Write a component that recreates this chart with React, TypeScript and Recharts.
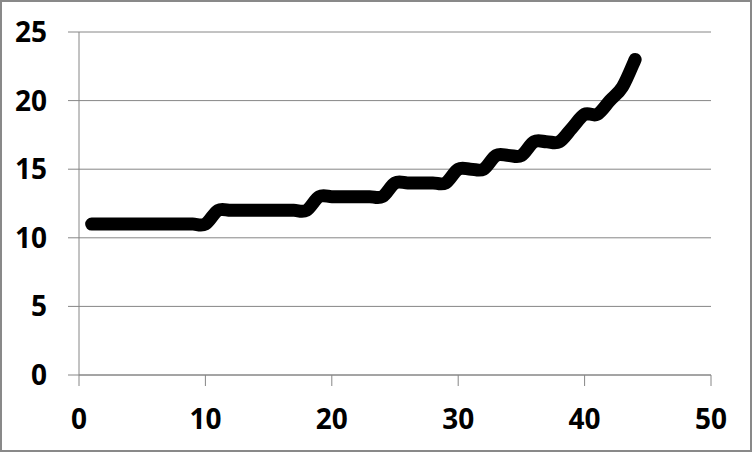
import { CartesianGrid, Line, LineChart, XAxis, YAxis } from "recharts";

const xValues = [
  1, 2, 3, 4, 5, 6, 7, 8, 9, 10, 11, 12, 13, 14, 15, 16, 17, 18, 19, 20, 21, 22,
  23, 24, 25, 26, 27, 28, 29, 30, 31, 32, 33, 34, 35, 36, 37, 38, 39, 40, 41, 42, 43, 44,
];
const yValues = [
  11, 11, 11, 11, 11, 11, 11, 11, 11, 11, 12, 12, 12, 12, 12, 12, 12, 12, 13, 13, 13, 13,
  13, 13, 14, 14, 14, 14, 14, 15, 15, 15, 16, 16, 16, 17, 17, 17, 18, 19, 19, 20, 21, 23,
];
const xTicks = [0, 10, 20, 30, 40, 50];
const yTicks = [0, 5, 10, 15, 20, 25];

const data = xValues.map((x, i) => ({ x, y: yValues[i] }));

// Excel-style smoothed line: cubic bezier, control points at 1/6 of neighbour span
function excelSmooth(context: any) {
  let pts: [number, number][] = [];
  return {
    areaStart() {},
    areaEnd() {},
    lineStart() {
      pts = [];
    },
    point(x: number, y: number) {
      pts.push([+x, +y]);
    },
    lineEnd() {
      if (!pts.length) return;
      context.moveTo(pts[0][0], pts[0][1]);
      for (let i = 0; i < pts.length - 1; i++) {
        const p0 = pts[i - 1] || pts[i];
        const p1 = pts[i];
        const p2 = pts[i + 1];
        const p3 = pts[i + 2] || p2;
        context.bezierCurveTo(
          p1[0] + (p2[0] - p0[0]) / 6,
          p1[1] + (p2[1] - p0[1]) / 6,
          p2[0] - (p3[0] - p1[0]) / 6,
          p2[1] - (p3[1] - p1[1]) / 6,
          p2[0],
          p2[1],
        );
      }
    },
  };
}

const tickStyle = {
  fill: "#000",
  fontSize: 28,
  fontWeight: 700,
  fontFamily: "'Open Sans', sans-serif",
};
const gray = "#868686";

export default function App() {
  return (
    <div style={{ position: "absolute", left: 0, top: 0, width: 752, height: 452, background: "#fff" }}>
      <LineChart width={752} height={452} data={data} margin={{ top: 32, right: 41, left: 0, bottom: 0 }}>
        <CartesianGrid vertical={false} stroke={gray} strokeWidth={1} />
        <XAxis
          dataKey="x"
          type="number"
          domain={[0, 50]}
          ticks={xTicks}
          height={77}
          tickSize={11}
          tickMargin={23}
          stroke={gray}
          tick={tickStyle}
          interval={0}
        />
        <YAxis
          type="number"
          domain={[0, 25]}
          ticks={yTicks}
          width={79}
          tickSize={11}
          tickMargin={21}
          stroke={gray}
          tick={tickStyle}
          interval={0}
        />
        <Line
          dataKey="y"
          type={excelSmooth as any}
          stroke="#000"
          strokeWidth={13}
          strokeLinecap="round"
          strokeLinejoin="round"
          dot={false}
          isAnimationActive={false}
        />
      </LineChart>
      <div
        style={{
          position: "absolute",
          left: 0,
          top: 0,
          width: 752,
          height: 452,
          boxSizing: "border-box",
          border: "2px solid #898989",
          pointerEvents: "none",
        }}
      />
    </div>
  );
}
